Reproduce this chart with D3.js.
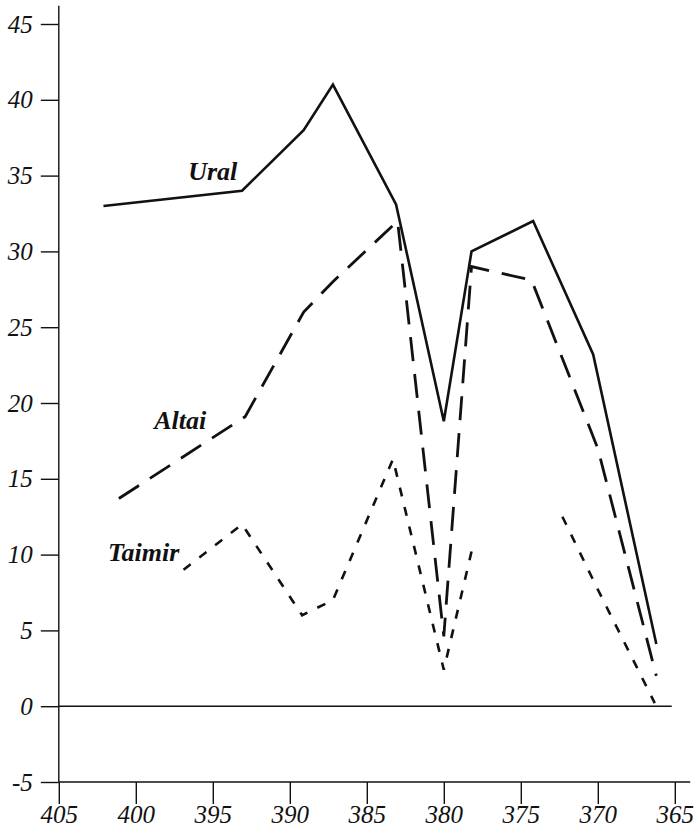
<!DOCTYPE html>
<html>
<head>
<meta charset="utf-8">
<script src="https://cdn.jsdelivr.net/npm/d3@7"></script>
<style>
  html, body { margin: 0; padding: 0; background: #fff; }
  svg { display: block; }
</style>
</head>
<body>
<svg id="chart" width="694" height="830"></svg>
<script>
// ---- data ----
const xTicks = [405, 400, 395, 390, 385, 380, 375, 370, 365];
const yTicks = [-5, 0, 5, 10, 15, 20, 25, 30, 35, 40, 45];

const uralX = [402.1, 393.1, 389.1, 387.2, 383.1, 380.0, 378.2, 374.2, 370.3, 366.2];
const uralY = [33.0, 34.0, 38.0, 41.0, 33.1, 18.8, 30.0, 32.0, 23.2, 4.1];

const altaiX = [401.1, 392.9, 389.1, 387.2, 383.0, 380.0, 378.2, 374.3, 370.0, 366.2];
const altaiY = [13.7, 19.1, 26.0, 28.0, 32.0, 4.6, 29.0, 28.1, 17.0, 2.0];

const taimirX = [396.9, 393.1, 389.2, 387.2, 383.3, 380.0, 378.2, 375.0, 372.3, 370.0, 366.3];
const taimirY = [9.0, 12.0, 6.0, 7.0, 16.3, 2.4, 10.2, null, 12.5, 7.7, 0.2];

const seriesNames = ["Ural", "Altai", "Taimir"];
const labelPos = [[396.6, 34.7], [398.8, 18.3], [401.8, 9.6]]; // [x, y] in data units (label start, baseline)

// ---- drawing ----
const svg = d3.select("#chart");
const x = d3.scaleLinear().domain([405, 365]).range([58.8, 674.8]);
const y = d3.scaleLinear().domain([-5, 45]).range([782, 24]);

const ink = "#111";
const serif = "'Liberation Serif', 'Times New Roman', serif";

// axes lines
svg.append("line")
  .attr("x1", x(405)).attr("x2", x(405))
  .attr("y1", y(-5)).attr("y2", y(46.2))
  .attr("stroke", ink).attr("stroke-width", 1.4);
svg.append("line")
  .attr("x1", x(405)).attr("x2", x(364))
  .attr("y1", y(-5)).attr("y2", y(-5))
  .attr("stroke", ink).attr("stroke-width", 1.4);
svg.append("line")
  .attr("x1", x(405)).attr("x2", x(365.2))
  .attr("y1", y(0)).attr("y2", y(0))
  .attr("stroke", ink).attr("stroke-width", 1.4);

// bottom axis
const gx = svg.append("g")
  .attr("transform", `translate(0,${y(-5)})`)
  .call(d3.axisBottom(x).tickValues(xTicks).tickSize(22).tickFormat(d => String(d)));
gx.select(".domain").remove();
gx.selectAll(".tick line").attr("stroke", ink).attr("stroke-width", 1.4);
gx.selectAll(".tick text")
  .attr("y", 41).attr("dy", 0)
  .attr("fill", ink)
  .style("font-family", serif).style("font-style", "italic").style("font-size", "25px");

// left axis
const gy = svg.append("g")
  .attr("transform", `translate(${x(405)},0)`)
  .call(d3.axisLeft(y).tickValues(yTicks).tickSize(18).tickPadding(8).tickFormat(d => String(d)));
gy.select(".domain").remove();
gy.selectAll(".tick line").attr("stroke", ink).attr("stroke-width", 1.4);
gy.selectAll(".tick text")
  .attr("fill", ink)
  .style("font-family", serif).style("font-style", "italic").style("font-size", "25px");

// lines
function pts(xs, ys) { return xs.map((v, i) => [v, ys[i]]); }
const line = d3.line()
  .defined(d => d[1] !== null)
  .x(d => x(d[0])).y(d => y(d[1]));

svg.append("path").datum(pts(uralX, uralY))
  .attr("d", line).attr("fill", "none").attr("stroke", ink)
  .attr("stroke-width", 2.6).attr("stroke-linejoin", "miter");

svg.append("path").datum(pts(altaiX, altaiY))
  .attr("d", line).attr("fill", "none").attr("stroke", ink)
  .attr("stroke-width", 2.8).attr("stroke-dasharray", "24,13");

svg.append("path").datum(pts(taimirX, taimirY))
  .attr("d", line).attr("fill", "none").attr("stroke", ink)
  .attr("stroke-width", 2.6).attr("stroke-dasharray", "9,11");

// series labels
svg.selectAll("text.series").data(seriesNames).enter().append("text")
  .attr("class", "series")
  .attr("x", (d, i) => x(labelPos[i][0]))
  .attr("y", (d, i) => y(labelPos[i][1]))
  .attr("fill", ink)
  .style("font-family", serif).style("font-style", "italic").style("font-weight", "bold")
  .style("font-size", "26px")
  .text(d => d);
</script>
</body>
</html>
